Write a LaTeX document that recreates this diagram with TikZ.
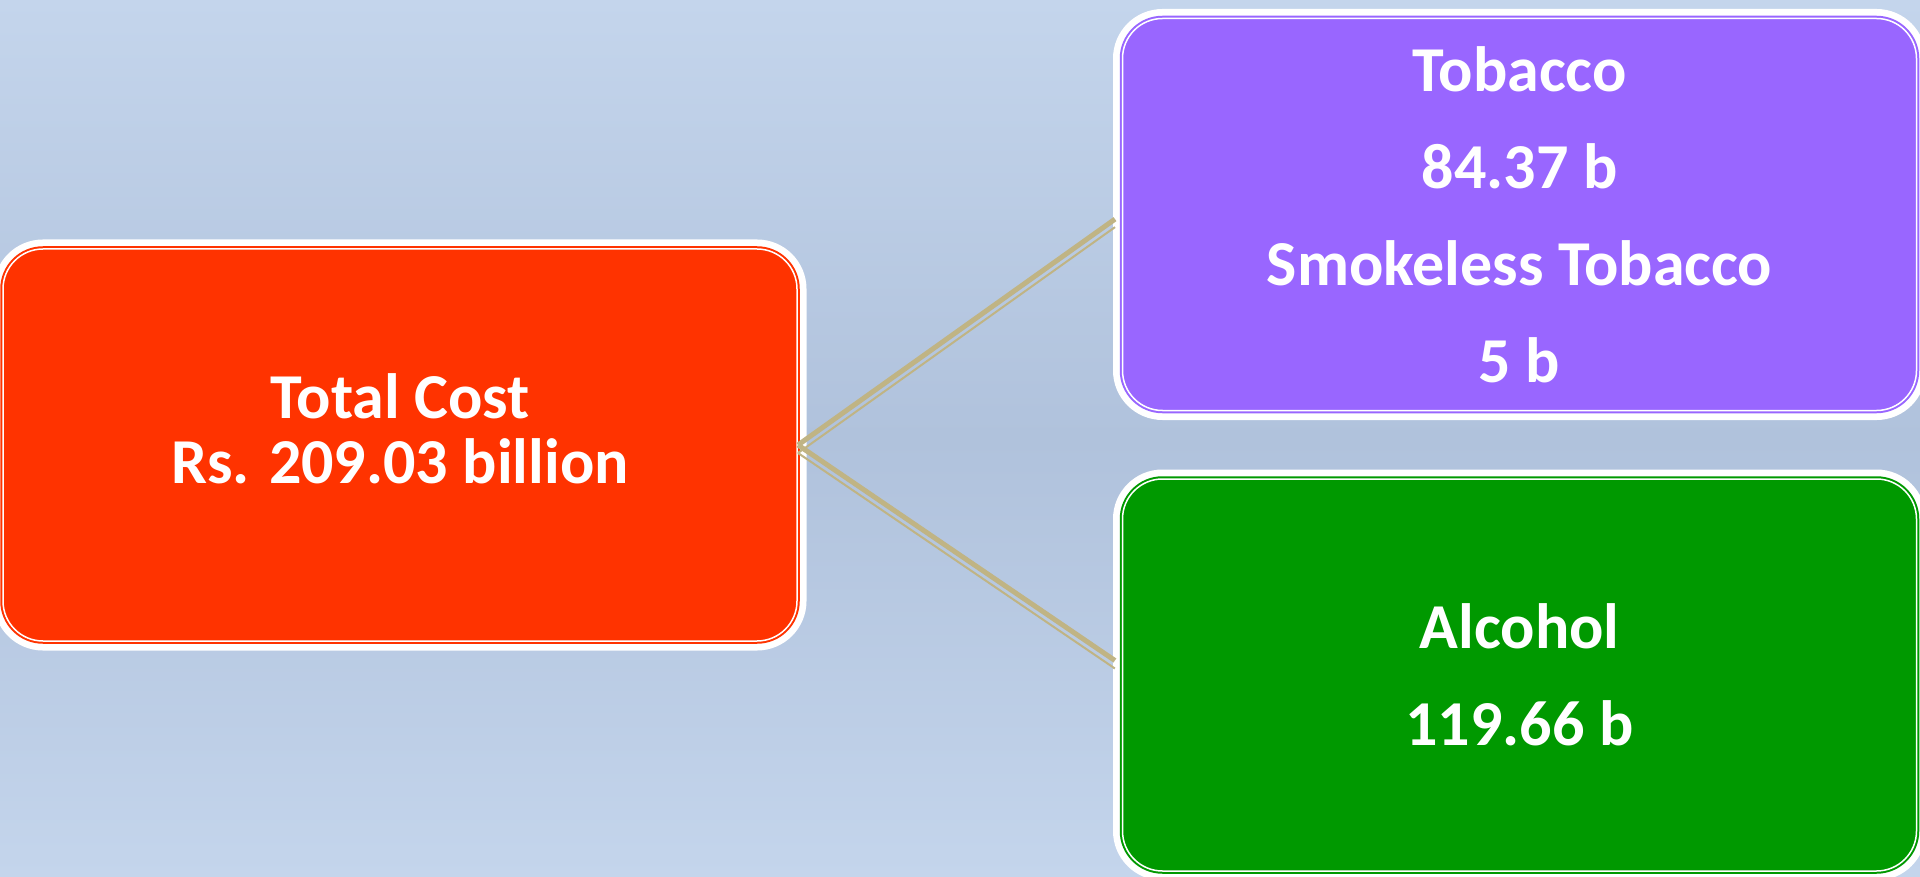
\documentclass[tikz,border=0pt]{standalone}
\usepackage{fontspec}
\setmainfont{Carlito}
\definecolor{skyblue}{RGB}{196,213,236}
\definecolor{skyshade}{RGB}{176,194,220}
\definecolor{costred}{RGB}{255,51,0}
\definecolor{tobaccopurple}{RGB}{153,102,255}
\definecolor{alcoholgreen}{RGB}{0,153,0}
\definecolor{linktan}{RGB}{192,180,132}

\begin{document}
\begin{tikzpicture}
    [x=1pt,y=-1pt,
     costbox/.style={rectangle,rounded corners=40pt,minimum width=794pt,minimum height=392pt,inner sep=0pt,
        preaction={draw=white,line width=19pt},
        draw=#1,fill=#1,line width=2pt,double=white,double distance=1.5pt,
        text=white,align=center,font=\bfseries\fontsize{64}{97}\selectfont},
     link/.style={linktan,line width=5pt,shorten >=8pt},
     thinlink/.style={linktan,line width=2pt,shorten >=8pt,transform canvas={yshift=-8pt}}]

    \useasboundingbox (0,0) rectangle (1920,877);
    \clip (0,0) rectangle (1920,877);
    \shade[top color=skyblue,bottom color=skyblue,middle color=skyshade] (0,0) rectangle (1920,877);

\node[costbox=costred,font=\bfseries\fontsize{64}{65}\selectfont,text depth=32pt] (total) at (400,445) {Total Cost\\Rs. 209.03 billion};
\node[costbox=tobaccopurple] (tobacco) at (1519.5,214.5) {Tobacco\\84.37 b\\Smokeless Tobacco\\5 b};
\node[costbox=alcoholgreen] (alcohol) at (1519.5,675) {Alcohol\\119.66 b};

\draw[link] (total.east) -- (tobacco.west);
\draw[thinlink] (total.east) -- (tobacco.west);
\draw[link] (total.east) -- ([yshift=10pt]alcohol.west);
\draw[thinlink] (total.east) -- ([yshift=10pt]alcohol.west);

  \end{tikzpicture}
\end{document}
